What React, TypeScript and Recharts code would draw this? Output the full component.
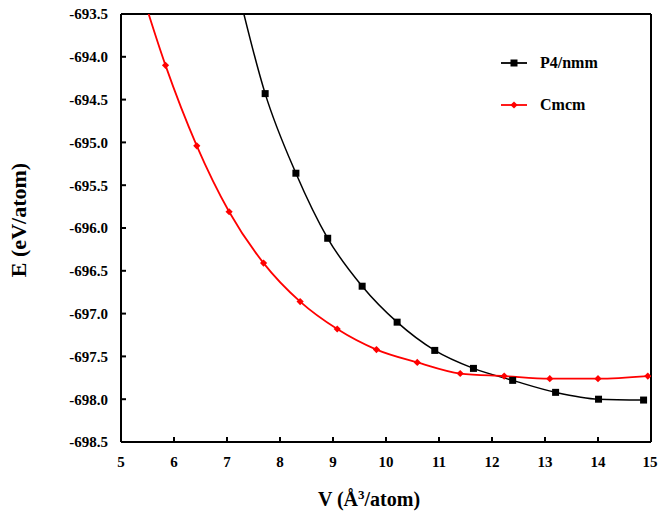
import { LineChart, Line, XAxis, YAxis, ReferenceLine } from "recharts";

// P4/nmm phase (first point sits above the visible range, the curve enters from the top)
const p4Volume = [7.16, 7.72, 8.3, 8.9, 9.55, 10.21, 10.92, 11.65, 12.39, 13.2, 14.01, 14.86];
const p4Energy = [-693.1, -694.43, -695.36, -696.12, -696.68, -697.1, -697.43, -697.64, -697.78, -697.92, -698.0, -698.01];

// Cmcm phase
const cmcmVolume = [5.27, 5.84, 6.43, 7.04, 7.69, 8.38, 9.08, 9.82, 10.59, 11.4, 12.23, 13.09, 14.0, 14.94];
const cmcmEnergy = [-693.0, -694.1, -695.04, -695.81, -696.41, -696.86, -697.18, -697.42, -697.57, -697.7, -697.73, -697.76, -697.76, -697.73];

const xTicks = [5, 6, 7, 8, 9, 10, 11, 12, 13, 14, 15];
const yTicks = [-693.5, -694, -694.5, -695, -695.5, -696, -696.5, -697, -697.5, -698, -698.5];

const p4Data = p4Volume.map((v, i) => ({ v, e: p4Energy[i] }));
const cmcmData = cmcmVolume.map((v, i) => ({ v, e: cmcmEnergy[i] }));

const FONT = "'Liberation Serif', 'Times New Roman', serif";
const textStyle = { fontFamily: FONT, fontWeight: 700, fill: "#000" };

function XTick(props: any) {
  const { x, y, payload } = props;
  return (
    <text x={x} y={y} dy="0.71em" textAnchor="middle" style={{ ...textStyle, fontSize: 15 }}>
      {payload.value}
    </text>
  );
}

function YTick(props: any) {
  const { x, y, payload } = props;
  return (
    <text x={x} y={y} dy="0.355em" textAnchor="end" style={{ ...textStyle, fontSize: 15 }}>
      {Number(payload.value).toFixed(1)}
    </text>
  );
}

function SquareDot(props: any) {
  const { cx, cy, index } = props;
  if (cx == null || cy == null) return <g key={index} />;
  return <rect key={index} x={cx - 3.5} y={cy - 3.5} width={7} height={7} fill="#000" />;
}

function DiamondDot(props: any) {
  const { cx, cy, index } = props;
  if (cx == null || cy == null) return <g key={index} />;
  const r = 3.6;
  return (
    <polygon
      key={index}
      points={`${cx},${cy - r} ${cx + r},${cy} ${cx},${cy + r} ${cx - r},${cy}`}
      fill="#ff0000"
    />
  );
}

function YLabel(props: any) {
  const vb = props.viewBox || {};
  const x = vb.x + 18;
  const y = vb.y + vb.height / 2 - 8;
  return (
    <text
      x={x}
      y={y}
      transform={`rotate(-90, ${x}, ${y})`}
      textAnchor="middle"
      dominantBaseline="central"
      style={{ ...textStyle, fontSize: 22 }}
    >
      E (eV/atom)
    </text>
  );
}

function XLabel(props: any) {
  const vb = props.viewBox || {};
  const x = vb.x + vb.width / 2 - 17;
  const y = 506;
  return (
    <text x={x} y={y} textAnchor="middle" style={{ ...textStyle, fontSize: 20 }}>
      V (Å
      <tspan dy={-7} fontSize={13}>3</tspan>
      <tspan dy={7}>/atom)</tspan>
    </text>
  );
}

function LegendRow({ label, color, square, top }: { label: string; color: string; square: boolean; top: number }) {
  return (
    <div style={{ position: "absolute", left: 501, top, height: 20, display: "flex", alignItems: "center" }}>
      <svg width={26} height={20}>
        <line x1={0} y1={10} x2={26} y2={10} stroke={color} strokeWidth={1.8} />
        {square ? (
          <rect x={9.5} y={6.5} width={7} height={7} fill={color} />
        ) : (
          <polygon points="13,6.4 16.6,10 13,13.6 9.4,10" fill={color} />
        )}
      </svg>
      <span style={{ marginLeft: 13, fontFamily: FONT, fontWeight: 700, fontSize: 16, color: "#000" }}>
        {label}
      </span>
    </div>
  );
}

export default function App() {
  return (
    <div style={{ position: "absolute", left: 0, top: 0, width: 658, height: 513, background: "#fff" }}>
      <LineChart width={658} height={513} margin={{ top: 14, right: 7, left: 0, bottom: 0 }}>
        <XAxis
          type="number"
          dataKey="v"
          domain={[5, 15]}
          ticks={xTicks}
          allowDataOverflow
          height={71}
          tick={<XTick />}
          tickSize={-5}
          tickMargin={19}
          tickLine={{ stroke: "#000", strokeWidth: 2 }}
          axisLine={{ stroke: "#000", strokeWidth: 2 }}
          label={<XLabel />}
        />
        <YAxis
          type="number"
          dataKey="e"
          domain={[-698.5, -693.5]}
          ticks={yTicks}
          allowDataOverflow
          width={121}
          tick={<YTick />}
          tickSize={-5}
          tickMargin={18}
          tickLine={{ stroke: "#000", strokeWidth: 2 }}
          axisLine={{ stroke: "#000", strokeWidth: 2 }}
          label={<YLabel />}
        />
        <ReferenceLine y={-693.5} stroke="#000" strokeWidth={2} />
        <ReferenceLine x={15} stroke="#000" strokeWidth={2} />
        <Line
          data={p4Data}
          dataKey="e"
          type="monotone"
          stroke="#000"
          strokeWidth={1.5}
          dot={<SquareDot />}
          activeDot={false}
          isAnimationActive={false}
        />
        <Line
          data={cmcmData}
          dataKey="e"
          type="monotone"
          stroke="#ff0000"
          strokeWidth={1.8}
          dot={<DiamondDot />}
          activeDot={false}
          isAnimationActive={false}
        />
      </LineChart>
      <LegendRow label="P4/nmm" color="#000" square top={53} />
      <LegendRow label="Cmcm" color="#ff0000" square={false} top={95} />
    </div>
  );
}
